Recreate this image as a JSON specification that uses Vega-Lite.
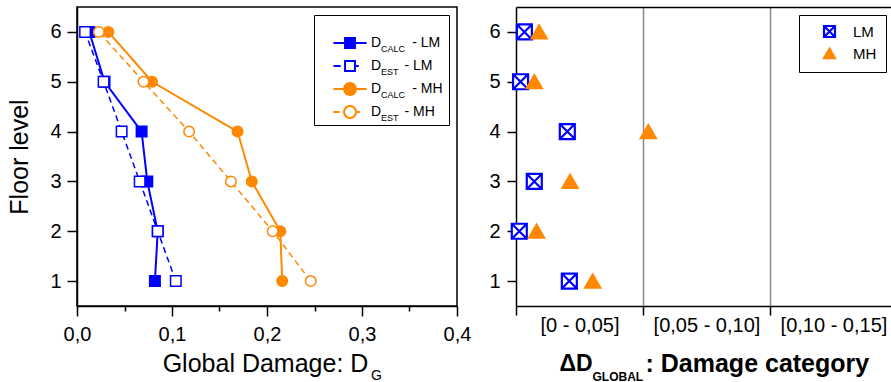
{
  "$schema": "https://vega.github.io/schema/vega-lite/v6.json",
  "padding": {"left": 7, "top": 6, "right": 0, "bottom": 0},
  "spacing": 16,
  "datasets": {
    "left": [
      {"floor": 6, "D": 0.013, "s": "DCALC - LM"},
      {"floor": 5, "D": 0.029, "s": "DCALC - LM"},
      {"floor": 4, "D": 0.068, "s": "DCALC - LM"},
      {"floor": 3, "D": 0.074, "s": "DCALC - LM"},
      {"floor": 2, "D": 0.085, "s": "DCALC - LM"},
      {"floor": 1, "D": 0.082, "s": "DCALC - LM"},
      {"floor": 6, "D": 0.0085, "s": "DEST - LM"},
      {"floor": 5, "D": 0.028, "s": "DEST - LM"},
      {"floor": 4, "D": 0.047, "s": "DEST - LM"},
      {"floor": 3, "D": 0.066, "s": "DEST - LM"},
      {"floor": 2, "D": 0.085, "s": "DEST - LM"},
      {"floor": 1, "D": 0.104, "s": "DEST - LM"},
      {"floor": 6, "D": 0.033, "s": "DCALC - MH"},
      {"floor": 5, "D": 0.079, "s": "DCALC - MH"},
      {"floor": 4, "D": 0.169, "s": "DCALC - MH"},
      {"floor": 3, "D": 0.184, "s": "DCALC - MH"},
      {"floor": 2, "D": 0.214, "s": "DCALC - MH"},
      {"floor": 1, "D": 0.216, "s": "DCALC - MH"},
      {"floor": 6, "D": 0.023, "s": "DEST - MH"},
      {"floor": 5, "D": 0.070, "s": "DEST - MH"},
      {"floor": 4, "D": 0.118, "s": "DEST - MH"},
      {"floor": 3, "D": 0.162, "s": "DEST - MH"},
      {"floor": 2, "D": 0.206, "s": "DEST - MH"},
      {"floor": 1, "D": 0.246, "s": "DEST - MH"}
    ],
    "right": [
      {"floor": 6, "dD": 0.0033, "g": "LM"},
      {"floor": 5, "dD": 0.0018, "g": "LM"},
      {"floor": 4, "dD": 0.0202, "g": "LM"},
      {"floor": 3, "dD": 0.0072, "g": "LM"},
      {"floor": 2, "dD": 0.0013, "g": "LM"},
      {"floor": 1, "dD": 0.021, "g": "LM"},
      {"floor": 6, "dD": 0.0091, "g": "MH"},
      {"floor": 5, "dD": 0.0072, "g": "MH"},
      {"floor": 4, "dD": 0.0521, "g": "MH"},
      {"floor": 3, "dD": 0.0213, "g": "MH"},
      {"floor": 2, "dD": 0.0081, "g": "MH"},
      {"floor": 1, "dD": 0.0302, "g": "MH"}
    ]
  },
  "hconcat": [
    {
      "width": 380,
      "height": 299,
      "data": {"name": "left"},
      "title": {"text": "G", "orient": "none", "anchor": "start", "dx": 294, "dy": 373, "baseline": "alphabetic", "fontSize": 14, "fontWeight": "normal", "font": "Liberation Sans", "color": "black"},
      "layer": [
        {
          "transform": [{"filter": "indexof(datum.s, 'CALC') >= 0"}],
          "mark": {"type": "line", "strokeWidth": 2},
          "encoding": {
            "x": {
              "field": "D", "type": "quantitative",
              "scale": {"domain": [0, 0.4], "nice": false, "zero": false},
              "axis": {
                "orient": "bottom",
                "values": [0, 0.05, 0.1, 0.15, 0.2, 0.25, 0.3, 0.35, 0.4],
                "labelExpr": "round(datum.value*100) % 10 == 0 ? replace(format(datum.value, '.1f'), '.', ',') : ''",
                "tickSize": {"condition": {"test": "round(datum.value*100) % 10 != 0", "value": 5}, "value": 10},
                "labelPadding": 8,
                "labelFlush": false,
                "labelOverlap": false,
                "labelBound": false,
                "title": "Global Damage: D",
                "titleFontSize": 25,
                "titleX": 188,
                "titleY": 65,
                "titleAlign": "center",
                "titleBaseline": "alphabetic"
              }
            },
            "y": {
              "field": "floor", "type": "quantitative",
              "scale": {"domain": [0.5, 6.5], "nice": false, "zero": false},
              "axis": {
                "orient": "left",
                "values": [1, 2, 3, 4, 5, 6],
                "format": "d",
                "tickSize": 10,
                "labelPadding": 6,
                "title": "Floor level",
                "titleFontSize": 25,
                "titlePadding": 17
              }
            },
            "color": {
              "field": "s", "type": "nominal",
              "scale": {"domain": ["DCALC - LM", "DEST - LM", "DCALC - MH", "DEST - MH"], "range": ["#0000ff", "#0000ff", "#ff8800", "#ff8800"]},
              "legend": null
            },
            "order": {"field": "floor", "type": "quantitative"}
          }
        },
        {
          "transform": [{"filter": "indexof(datum.s, 'EST') >= 0"}],
          "mark": {"type": "line", "strokeWidth": 1.5, "strokeDash": [6, 4]},
          "encoding": {
            "x": {"field": "D", "type": "quantitative"},
            "y": {"field": "floor", "type": "quantitative"},
            "color": {"field": "s", "type": "nominal", "legend": null},
            "order": {"field": "floor", "type": "quantitative"}
          }
        },
        {
          "mark": {"type": "point", "opacity": 1, "strokeWidth": 1.5, "size": 110},
          "encoding": {
            "x": {"field": "D", "type": "quantitative"},
            "y": {"field": "floor", "type": "quantitative"},
            "shape": {
              "field": "s", "type": "nominal",
              "scale": {"domain": ["DCALC - LM", "DEST - LM", "DCALC - MH", "DEST - MH"], "range": ["square", "square", "circle", "circle"]},
              "legend": null
            },
            "fill": {
              "field": "s", "type": "nominal",
              "scale": {"domain": ["DCALC - LM", "DEST - LM", "DCALC - MH", "DEST - MH"], "range": ["#0000ff", "#ffffff", "#ff8800", "#ffffff"]},
              "legend": null
            },
            "stroke": {
              "field": "s", "type": "nominal",
              "scale": {"domain": ["DCALC - LM", "DEST - LM", "DCALC - MH", "DEST - MH"], "range": ["#0000ff", "#0000ff", "#ff8800", "#ff8800"]},
              "legend": null
            }
          }
        },
        {
          "transform": [{"filter": "datum.floor > 100"}],
          "mark": {"type": "point", "opacity": 1, "strokeWidth": 2, "size": 121},
          "encoding": {
            "shape": {
              "field": "s", "type": "nominal",
              "scale": {
                "domain": ["DCALC - LM", "DEST - LM", "DCALC - MH", "DEST - MH"],
                "range": [
                  "M-3,0H-0.9M0.9,0H3M-0.9,-0.9H0.9V0.9H-0.9Z",
                  "M-3,0H-1.7M0.9,0H1.6M-0.9,-0.9H0.9V0.9H-0.9Z",
                  "M-3,0H-1.1M1.1,0H3M1.1,0L0.953,0.55L0.55,0.953L0,1.1L-0.55,0.953L-0.953,0.55L-1.1,0L-0.953,-0.55L-0.55,-0.953L0,-1.1L0.55,-0.953L0.953,-0.55Z",
                  "M-3,0H-1.9M1.1,0H1.8M1.1,0L0.953,0.55L0.55,0.953L0,1.1L-0.55,0.953L-0.953,0.55L-1.1,0L-0.953,-0.55L-0.55,-0.953L0,-1.1L0.55,-0.953L0.953,-0.55Z"
                ]
              },
              "legend": {
                "title": "\u00a0",
                "titleFontSize": 4,
                "titlePadding": 11,
                "orient": "none",
                "legendX": 237,
                "legendY": 8,
                "padding": 6,
                "symbolOffset": 23,
                "labelOffset": 14,
                "labelFontSize": 14,
                "rowPadding": 9,
                "clipHeight": 14,
                "strokeColor": "black",
                "symbolStrokeWidth": 2,
                "symbolSize": 121,
                "labelExpr": "replace(replace(datum.label, 'CALC', '\u00a0\u00a0\u00a0\u00a0\u00a0\u00a0\u00a0'), 'EST', '\u00a0\u00a0\u00a0\u00a0\u00a0')"
              }
            },
            "fill": {
              "field": "s", "type": "nominal",
              "scale": {"domain": ["DCALC - LM", "DEST - LM", "DCALC - MH", "DEST - MH"], "range": ["#0000ff", "#ffffff", "#ff8800", "#ffffff"]}
            },
            "stroke": {
              "field": "s", "type": "nominal",
              "scale": {"domain": ["DCALC - LM", "DEST - LM", "DCALC - MH", "DEST - MH"], "range": ["#0000ff", "#0000ff", "#ff8800", "#ff8800"]}
            },
            "strokeDash": {
              "field": "sub", "type": "nominal",
              "scale": {"domain": ["CALC", "EST", "CALC ", "EST "], "range": [[1, 0], [1, 0], [1, 0], [1, 0]]},
              "legend": {
                "title": null,
                "orient": "none",
                "legendX": 290,
                "legendY": 35,
                "padding": 0,
                "symbolOpacity": 0,
                "symbolType": "square",
                "symbolSize": 144,
                "symbolStrokeWidth": 2,
                "symbolOffset": 0,
                "labelOffset": 0,
                "labelFontSize": 9,
                "rowPadding": 9,
                "clipHeight": 14,
                "labelExpr": "trim(datum.label)"
              }
            }
          }
        }
      ],
      "resolve": {"scale": {"shape": "independent", "fill": "independent", "stroke": "independent"}}
    },
    {
      "width": 377,
      "height": 299,
      "data": {"name": "right"},
      "view": {"stroke": null},
      "layer": [
        {
          "mark": {"type": "point", "opacity": 1, "strokeWidth": 2.2, "size": 225},
          "encoding": {
            "x": {
              "field": "dD", "type": "quantitative",
              "scale": {"domain": [0, 0.14843], "nice": false, "zero": false},
              "axis": {
                "orient": "bottom",
                "values": [0, 0.025, 0.05, 0.075, 0.1, 0.125],
                "labelExpr": "round(datum.value*1000) % 50 == 0 ? '' : (datum.value < 0.05 ? '[0 - 0,05]' : (datum.value < 0.1 ? '[0,05 - 0,10]' : '[0,10 - 0,15]'))",
                "tickSize": 9,
                "tickOpacity": {"condition": {"test": "round(datum.value*1000) % 50 != 0", "value": 0}, "value": 1},
                "grid": true,
                "gridColor": "#8a8a8a",
                "gridWidth": 1.5,
                "gridOpacity": {"condition": {"test": "round(datum.value*1000) == 50 || round(datum.value*1000) == 100", "value": 1}, "value": 0},
                "labelPadding": 0,
                "labelFlush": false,
                "labelOverlap": false,
                "labelBound": false,
                "title": "ΔD",
                "titleFontSize": 23,
                "titleFontWeight": "bold",
                "titleX": 43,
                "titleY": 64,
                "titleAlign": "left",
                "titleBaseline": "alphabetic"
              }
            },
            "y": {
              "field": "floor", "type": "quantitative",
              "scale": {"domain": [0.5, 6.5], "nice": false, "zero": false},
              "axis": {
                "values": [1, 2, 3, 4, 5, 6],
                "format": "d",
                "tickSize": 9,
                "labelPadding": 7,
                "title": "GLOBAL",
                "titleAngle": 0,
                "titleFontSize": 12,
                "titleFontWeight": "bold",
                "titleX": 76,
                "titleY": 373,
                "titleAlign": "left",
                "titleBaseline": "alphabetic"
              }
            },
            "shape": {
              "field": "g", "type": "nominal",
              "scale": {"domain": ["LM", "MH"], "range": ["M-1,-1H1V1H-1ZM-1,-1L1,1M1,-1L-1,1", "triangle-up"]},
              "legend": {
                "title": null,
                "orient": "none",
                "legendX": 283,
                "legendY": 8,
                "padding": 9,
                "symbolOffset": 14,
                "labelOffset": 16,
                "labelFontSize": 15,
                "rowPadding": 2,
                "strokeColor": "black",
                "fillColor": "white",
                "symbolSize": 120,
                "symbolStrokeWidth": 2.2
              }
            },
            "fill": {
              "field": "g", "type": "nominal",
              "scale": {"domain": ["LM", "MH"], "range": ["#ffffff", "#ff8800"]}
            },
            "stroke": {
              "field": "g", "type": "nominal",
              "scale": {"domain": ["LM", "MH"], "range": ["#0000ff", "#ff8800"]}
            }
          }
        },
        {
          "transform": [{"filter": "datum.floor > 100"}],
          "mark": {"type": "point"},
          "encoding": {
            "x": {
              "field": "dD", "type": "quantitative",
              "axis": {
                "orient": "top",
                "domain": true, "ticks": false, "labels": false,
                "title": ": Damage category",
                "titleFontSize": 25,
                "titleFontWeight": "bold",
                "titleX": 129,
                "titleY": 364,
                "titleAlign": "left",
                "titleBaseline": "alphabetic"
              }
            }
          }
        }
      ]
    }
  ],
  "resolve": {
    "scale": {"color": "independent", "shape": "independent", "fill": "independent", "stroke": "independent", "strokeDash": "independent"},
    "legend": {"color": "independent", "shape": "independent", "fill": "independent", "stroke": "independent", "strokeDash": "independent"}
  },
  "config": {
    "font": "Liberation Sans",
    "view": {"stroke": "black", "strokeWidth": 1.5},
    "axis": {
      "domainColor": "black",
      "domainWidth": 1.5,
      "tickColor": "black",
      "tickWidth": 1.5,
      "labelColor": "black",
      "titleColor": "black",
      "labelFont": "Liberation Sans",
      "titleFont": "Liberation Sans",
      "labelFontSize": 20,
      "titleFontWeight": "normal",
      "grid": false
    },
    "legend": {"labelFont": "Liberation Sans", "labelColor": "black", "titleFont": "Liberation Sans"}
  }
}
